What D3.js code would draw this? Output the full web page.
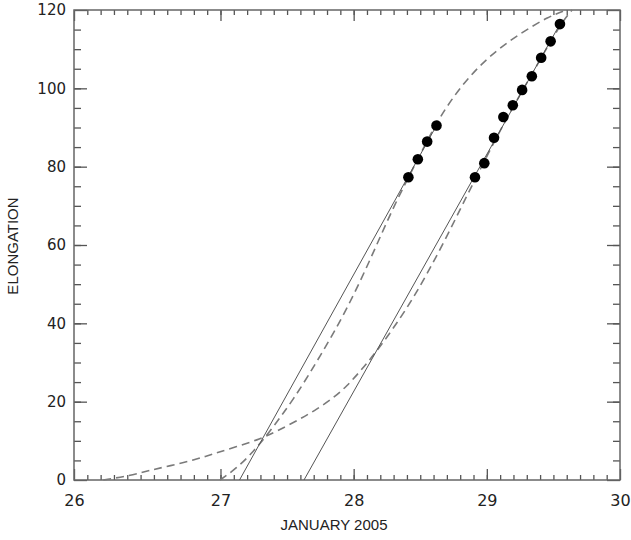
<!DOCTYPE html>
<html>
<head>
<meta charset="utf-8">
<script src="https://cdn.jsdelivr.net/npm/d3@7"></script>
<style>
  body { margin: 0; background: #fff; }
  svg { display: block; }
  .tick text { font-family: "DejaVu Sans", sans-serif; fill: #222; }
</style>
</head>
<body>
<script>
/* data: x = day of January 2005, y = elongation (deg) */
const groupADays = [28.411, 28.482, 28.552, 28.622];
const groupAElong = [77.3, 81.9, 86.4, 90.5];

const groupBDays = [28.911, 28.981, 29.054, 29.124, 29.195, 29.265, 29.338, 29.408, 29.479, 29.549];
const groupBElong = [77.3, 80.9, 87.4, 92.7, 95.7, 99.6, 103.1, 107.8, 112.0, 116.4];

// straight fits (solid)
const fitADays = [27.143, 28.622];
const fitAElong = [0, 90.5];
const fitBDays = [27.627, 29.549];
const fitBElong = [0, 116.4];

// model curves (dashed)
const curveADays = [26.996, 27.122, 27.246, 27.359, 27.547, 27.747, 27.948, 28.135, 28.298, 28.482, 28.611, 28.748, 28.898, 29.074, 29.274, 29.462, 29.600];
const curveAElong = [0, 3.0, 7.2, 11.9, 20.4, 31.5, 43.4, 57.0, 69.8, 81.9, 90.6, 97.9, 104.2, 109.8, 114.5, 118.3, 120];
const curveBDays = [26.12, 26.32, 26.47, 26.62, 26.80, 26.95, 27.12, 27.30, 27.42, 27.60, 27.72, 27.85, 27.95, 28.05, 28.16, 28.30, 28.44, 28.56, 28.69, 28.81, 28.91, 29.05, 29.195, 29.338, 29.479, 29.58, 29.64];
const curveBElong = [0, 1.1, 2.5, 3.6, 5.1, 6.7, 8.5, 10.5, 12.4, 15.6, 18.0, 21.0, 24.0, 27.8, 32.3, 38.8, 46.0, 53.2, 61.5, 69.8, 76.6, 86.0, 95.2, 103.6, 112.0, 117.6, 120];

// axes
const xDomain = [25.9, 30];
const xMajor = [25.9, 27, 28, 29, 30];
const xMajorLabels = ['26', '27', '28', '29', '30'];
const xMinor = d3.range(26, 29.95, 0.1);
const yMajor = [0, 20, 40, 60, 80, 100, 120];
const yMinor = d3.range(5, 120, 5);

/* canvas */
const margin = { top: 10, right: 11, bottom: 60, left: 74 },
  width = 631 - margin.left - margin.right,
  height = 540 - margin.top - margin.bottom;

const svg = d3.select('body').append('svg')
  .attr('width', 631)
  .attr('height', 540)
  .append('g')
  .attr('transform', 'translate(' + margin.left + ',' + margin.top + ')');

const x = d3.scaleLinear().domain(xDomain).range([0, width]);
const y = d3.scaleLinear().domain([0, 120]).range([height, 0]);

/* inward ticks on all four sides */
function addAxis(gen, values, size, tr, labels, pad) {
  const g = svg.append('g')
    .attr('transform', tr)
    .call(gen.tickValues(values).tickSize(size).tickPadding(pad || 3)
      .tickFormat(labels ? (d, i) => labels[i] : () => ''));
  g.select('.domain').remove();
  g.selectAll('.tick line')
    .attr('stroke', '#555')
    .attr('stroke-width', 1.3);
  return g;
}
addAxis(d3.axisBottom(x), xMinor, -5, `translate(0,${height})`);
addAxis(d3.axisBottom(x), xMajor, -11, `translate(0,${height})`, xMajorLabels, 15)
  .selectAll('text').style('font-size', '16px');
addAxis(d3.axisTop(x), xMinor, -5, 'translate(0,0)');
addAxis(d3.axisTop(x), xMajor, -11, 'translate(0,0)');

addAxis(d3.axisLeft(y), yMinor, -7, 'translate(0,0)');
addAxis(d3.axisLeft(y), yMajor, -13, 'translate(0,0)', yMajor.map(String), 8)
  .selectAll('text').style('font-size', '15px');
addAxis(d3.axisRight(y), yMinor, -7, `translate(${width},0)`);
addAxis(d3.axisRight(y), yMajor, -13, `translate(${width},0)`);

svg.append('rect')
  .attr('width', width)
  .attr('height', height)
  .attr('fill', 'none')
  .attr('stroke', '#666')
  .attr('stroke-width', 1.5);

/* dashed model curves */
const curveLine = d3.line()
  .x(d => x(d[0]))
  .y(d => y(d[1]))
  .curve(d3.curveBasis);

[[curveADays, curveAElong], [curveBDays, curveBElong]].forEach(([days, el]) => {
  svg.append('path')
    .datum(days.map((d, i) => [d, el[i]]))
    .attr('d', curveLine)
    .attr('fill', 'none')
    .attr('stroke', '#7a7a7a')
    .attr('stroke-width', 1.6)
    .attr('stroke-dasharray', '8,5');
});

/* straight fits */
const straight = d3.line().x(d => x(d[0])).y(d => y(d[1]));
[[fitADays, fitAElong], [fitBDays, fitBElong]].forEach(([days, el]) => {
  svg.append('path')
    .datum(days.map((d, i) => [d, el[i]]))
    .attr('d', straight)
    .attr('fill', 'none')
    .attr('stroke', '#555')
    .attr('stroke-width', 1);
});

/* observed points */
const pts = groupADays.map((d, i) => [d, groupAElong[i]])
  .concat(groupBDays.map((d, i) => [d, groupBElong[i]]));
svg.selectAll('circle.pt')
  .data(pts)
  .enter().append('circle')
  .attr('class', 'pt')
  .attr('r', 5.3)
  .attr('cx', d => x(d[0]))
  .attr('cy', d => y(d[1]))
  .attr('fill', '#000');

/* axis titles */
svg.append('text')
  .attr('x', 260)
  .attr('y', height + 50)
  .attr('text-anchor', 'middle')
  .style('font-family', '"Liberation Sans", sans-serif')
  .style('font-size', '15px')
  .style('fill', '#222')
  .text('JANUARY 2005');

svg.append('text')
  .attr('transform', 'rotate(-90)')
  .attr('x', -236)
  .attr('y', -56)
  .attr('text-anchor', 'middle')
  .style('font-family', '"Liberation Sans", sans-serif')
  .style('font-size', '15px')
  .style('fill', '#222')
  .text('ELONGATION');
</script>
</body>
</html>
